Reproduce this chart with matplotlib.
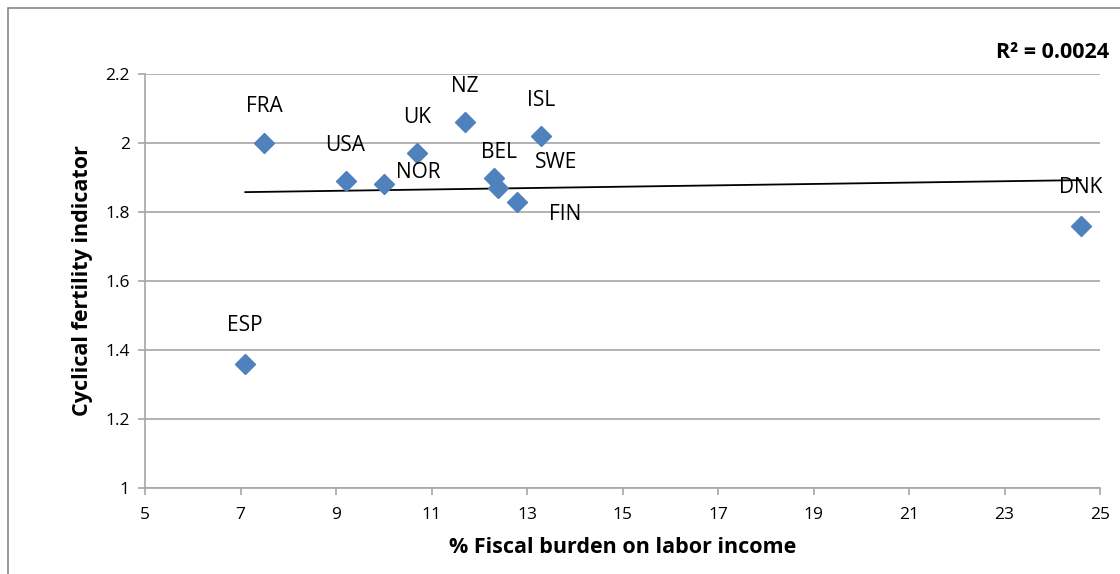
import numpy as np
import matplotlib
matplotlib.use("Agg")
import matplotlib.pyplot as plt
from matplotlib.patches import Rectangle

countries = ["FRA", "USA", "NOR", "UK", "NZ", "BEL", "SWE", "FIN", "ISL", "DNK", "ESP"]
fiscal_burden = [7.5, 9.2, 10.0, 10.7, 11.7, 12.3, 12.4, 12.8, 13.3, 24.6, 7.1]
fertility = [2.00, 1.89, 1.88, 1.97, 2.06, 1.90, 1.87, 1.83, 2.02, 1.76, 1.36]
x_ticks = [5, 7, 9, 11, 13, 15, 17, 19, 21, 23, 25]
y_ticks = [1, 1.2, 1.4, 1.6, 1.8, 2, 2.2]
y_tick_labels = ["1", "1.2", "1.4", "1.6", "1.8", "2", "2.2"]
r2_text = "R² = 0.0024"

# label offsets in pixels (dx, dy)
label_offsets = {
    "FRA": (0, 37), "USA": (0, 35), "NOR": (34, 12), "UK": (0, 36),
    "NZ": (0, 36), "BEL": (5, 25), "SWE": (58, 25), "FIN": (48, -13),
    "ISL": (0, 36), "DNK": (0, 38), "ESP": (0, 38),
}

plt.rcParams['font.family'] = ['Open Sans', 'DejaVu Sans']

fig = plt.figure(figsize=(11.2, 5.74), dpi=100)
fig.patches.append(Rectangle((8 / 1120, -0.1), 1.2, 1 - 8 / 574 + 0.1,
                             transform=fig.transFigure, fill=False,
                             edgecolor='#888888', linewidth=1.2))
ax = fig.add_axes([145 / 1120, 1 - 488 / 574, 955 / 1120, 414 / 574])

ax.set_xlim(5, 25)
ax.set_ylim(1, 2.2)
ax.set_xticks(x_ticks)
ax.set_xticklabels([str(v) for v in x_ticks])
ax.set_yticks(y_ticks)
ax.set_yticklabels(y_tick_labels)
ax.yaxis.grid(True, color='#a6a6a6', linewidth=1.2)
ax.set_axisbelow(True)
for s in ['top', 'right']:
    ax.spines[s].set_visible(False)
for s in ['left', 'bottom']:
    ax.spines[s].set_color('#a6a6a6')
    ax.spines[s].set_linewidth(1.2)
ax.tick_params(axis='both', direction='out', length=5, color='#a6a6a6',
               labelsize=12.5, labelcolor='black', width=1.2)
ax.tick_params(axis='x', pad=9)
ax.tick_params(axis='y', pad=6)

# trend line
coef = np.polyfit(fiscal_burden, fertility, 1)
xs = np.array([min(fiscal_burden), max(fiscal_burden)])
ax.plot(xs, np.polyval(coef, xs), color='black', linewidth=1.3, zorder=2)

ax.plot(fiscal_burden, fertility, linestyle='none', marker='D', markersize=10,
        color='#4F81BD', markeredgecolor='#4F81BD', zorder=3)

for c, x, y in zip(countries, fiscal_burden, fertility):
    dx, dy = label_offsets[c]
    ax.annotate(c, (x, y), xytext=(dx, dy), textcoords='offset pixels',
                ha='center', va='center', fontsize=15, color='black', zorder=4)

ax.set_xlabel("% Fiscal burden on labor income", fontsize=15.5, fontweight='bold', labelpad=10)
ax.set_ylabel("Cyclical fertility indicator", fontsize=15.5, fontweight='bold', labelpad=9)

fig.text(996 / 1120, 1 - 52 / 574, r2_text, fontsize=15.5, fontweight='bold',
         ha='left', va='center')

fig.savefig("out.png", dpi=100)
